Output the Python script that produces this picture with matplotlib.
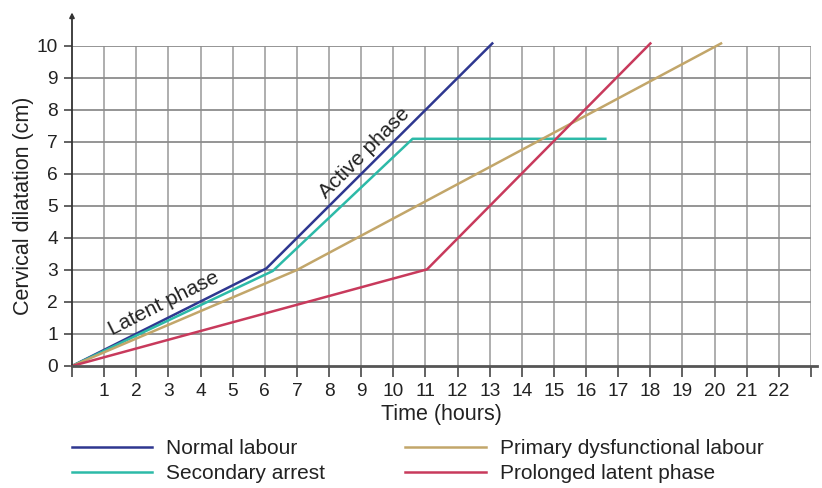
import numpy as np
import matplotlib.pyplot as plt

plt.rcParams['font.family'] = ['Liberation Sans', 'DejaVu Sans']

# curves: (time in hours, cervical dilatation in cm)
normal_x = [0, 6.05, 13.08]
normal_y = [0, 3.05, 10.08]
secondary_x = [0, 6.25, 10.6, 16.6]
secondary_y = [0, 2.97, 7.1, 7.1]
primary_x = [0, 7, 20.2]
primary_y = [0, 3.0, 10.08]
prolonged_x = [0, 11.05, 18.0]
prolonged_y = [0, 3.02, 10.08]

x_labels = [str(i) for i in range(1, 23)]
y_labels = [str(i) for i in range(0, 11)]

fig = plt.figure(figsize=(8.22, 4.88), dpi=100)
ax = fig.add_axes([72 / 822, 1 - 366 / 488, (811 - 72) / 822, 320 / 488])

ax.set_xlim(0, 23)
ax.set_ylim(0, 10)

# grid
for gx in range(1, 24):
    ax.plot([gx, gx], [0, 10], color='#a8a8a8', lw=1.3, zorder=1)
for gy in range(1, 11):
    ax.plot([0, 23], [gy, gy], color='#8c8c8c', lw=1.3, zorder=1)

lw = 1.8
ax.plot(normal_x, normal_y, color='#2e3790', lw=lw, clip_on=False, zorder=3, label='Normal labour')
ax.plot(secondary_x, secondary_y, color='#2dbaa8', lw=lw, clip_on=False, zorder=3, label='Secondary arrest')
ax.plot(primary_x, primary_y, color='#c2a66a', lw=lw, clip_on=False, zorder=3, label='Primary dysfunctional labour')
ax.plot(prolonged_x, prolonged_y, color='#c83a5c', lw=lw, clip_on=False, zorder=3, label='Prolonged latent phase')

# spines / axes
for s in ['top', 'right', 'left', 'bottom']:
    ax.spines[s].set_visible(False)
ax.plot([0, 23.2], [0, 0], color='#555555', lw=2, clip_on=False, zorder=4)
ax.annotate('', xy=(0, 11.05), xytext=(0, -0.02), xycoords='data',
            arrowprops=dict(arrowstyle='-|>', color='#333333', lw=1.3,
                            mutation_scale=7, shrinkA=0, shrinkB=0),
            annotation_clip=False)

ax.set_xticks(range(0, 24))
ax.set_xticklabels([''] + x_labels + [''])
ax.set_yticks(range(0, 11))
ax.set_yticklabels(y_labels)
ax.tick_params(axis='x', direction='out', length=8, width=1.3, color='#555555',
               labelsize=13.8, pad=4, labelcolor='#222222')
ax.tick_params(axis='y', direction='out', length=6, width=1.3, color='#555555',
               labelsize=13.8, pad=4, labelcolor='#222222')

ax.set_xlabel('Time (hours)', fontsize=15.5, color='#222222', labelpad=3)
ax.set_ylabel('Cervical dilatation (cm)', fontsize=15.5, color='#222222', labelpad=2)

ax.text(2.85, 1.95, 'Latent phase', rotation=26.6, rotation_mode='anchor',
        ha='center', va='center', fontsize=15, color='#222222', zorder=5)
ax.text(9.1, 6.65, 'Active phase', rotation=45, rotation_mode='anchor',
        ha='center', va='center', fontsize=15, color='#222222', zorder=5)

fig.legend(loc='upper left', bbox_to_anchor=(72 / 822, 1 - 439 / 488), ncol=2,
           frameon=False, fontsize=15, handlelength=3.85, handletextpad=0.67,
           columnspacing=3.85, borderpad=0, borderaxespad=0, labelspacing=0.31,
           labelcolor='#222222')

fig.savefig('out.png', dpi=100)
